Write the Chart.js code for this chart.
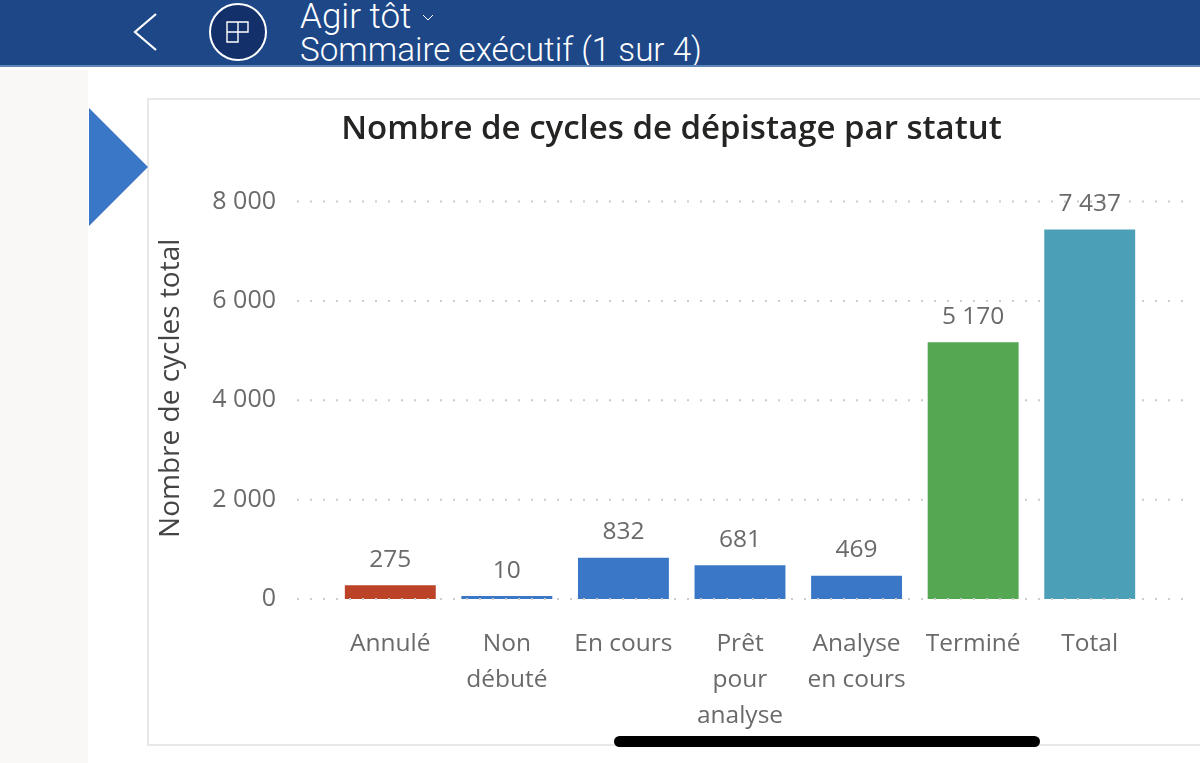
<!DOCTYPE html>
<html lang="fr"><head><meta charset="utf-8">
<script src="https://cdn.jsdelivr.net/npm/chart.js@4/dist/chart.umd.min.js"></script>
<style>
html,body{margin:0;padding:0;background:#fff;width:1200px;height:763px;overflow:hidden;font-family:"Open Sans",sans-serif}
#hdr{position:absolute;left:0;top:0;width:1200px;height:65px;background:#1D4787;border-bottom:2px solid #5F86B8;overflow:hidden}
.t{position:absolute;left:300px;color:#fff;font-family:Roboto,sans-serif;font-weight:300;white-space:nowrap}
#strip{position:absolute;left:0;top:70px;width:88px;height:693px;background:#FAF8F7}
#card{position:absolute;left:147px;top:98px;width:1060px;height:648px;border:2px solid #E8E8E8;box-sizing:border-box;background:#fff}
#wrap{position:absolute;left:142px;top:98px;width:1058px;height:665px}
#pill{position:absolute;left:614px;top:736px;width:426px;height:11px;border-radius:6px;background:#000}
svg{position:absolute;left:0;top:0}
</style></head><body>
<div id="strip"></div><div id="card"></div>
<svg width="160" height="240" style="z-index:3"><polygon points="89,108 148,167 89,226" fill="#3A77C7"/></svg>
<div id="wrap"><canvas id="c" width="1058" height="665"></canvas></div>
<div id="hdr">
<svg width="460" height="65">
<polyline points="156,14 135,32 156,50" fill="none" stroke="#fff" stroke-width="2.2"/>
<circle cx="238" cy="32" r="28" fill="#14306A" stroke="#fff" stroke-width="2"/>
<path d="M227 22H248V32H238V42H227ZM227 32H238M238 22V32" fill="none" stroke="#fff" stroke-width="1.4"/>
<polyline points="423,15 428,20 433,15" fill="none" stroke="#fff" stroke-width="1"/>
</svg>
<div class="t" style="top:-4px;font-size:35px;line-height:42px">Agir tôt</div>
<div class="t" style="top:31px;font-size:33.2px;line-height:38px">Sommaire exécutif (1 sur 4)</div>
</div>
<div id="pill"></div>
<script>
const categories = [["Annulé"], ["Non","débuté"], ["En cours"], ["Prêt","pour","analyse"], ["Analyse","en cours"], ["Terminé"], ["Total"]];
const values = [275, 10, 832, 681, 469, 5170, 7437];
const barColors = ["#BC4328","#3A77C7","#3A77C7","#3A77C7","#3A77C7","#55A752","#4BA0B8"];
const yAxisTitle = "Nombre de cycles total";
const fmt = v => String(v).replace(/\B(?=(\d{3})+$)/g, " ");
const textGrey = "#6A6A6A";
const font = '"Open Sans", sans-serif';

const dots = {
  id: "dots",
  drawGrid(chart, over){
    const y = chart.scales.y, a = chart.chartArea, ctx = chart.ctx;
    ctx.save();
    ctx.strokeStyle = "#CCCCCC"; ctx.lineWidth = 2; ctx.setLineDash([2, 11]);
    y.ticks.forEach(t => {
      if (over && t.value !== 0) return;
      const py = y.getPixelForValue(t.value);
      ctx.beginPath(); ctx.moveTo(a.left - 35, py); ctx.lineTo(a.right + 37, py); ctx.stroke();
    });
    ctx.restore();
  },
  beforeDatasetsDraw(chart){ this.drawGrid(chart, false); },
  afterDatasetsDraw(chart){
    this.drawGrid(chart, true);
    const ctx = chart.ctx, meta = chart.getDatasetMeta(0), a = chart.chartArea;
    ctx.save();
    ctx.font = "24.5px " + font; ctx.fillStyle = textGrey; ctx.textAlign = "center"; ctx.textBaseline = "bottom";
    meta.data.forEach((el, i) => ctx.fillText(fmt(values[i]), el.x, el.y - 13));
    ctx.restore();
    ctx.save();
    ctx.translate(a.left - 161, (a.top + a.bottom) / 2 - 12);
    ctx.rotate(-Math.PI / 2);
    ctx.font = "28px " + font; ctx.fillStyle = "#444"; ctx.textAlign = "center"; ctx.textBaseline = "middle";
    ctx.fillText(yAxisTitle, 0, 0);
    ctx.restore();
  }
};

new Chart(document.getElementById("c"), {
  type: "bar",
  data: { labels: categories, datasets: [{ data: values, backgroundColor: barColors, borderWidth: 0, minBarLength: 3,
    categoryPercentage: 1, barPercentage: 0.78 }] },
  options: {
    responsive: false, animation: false,
    layout: { padding: { left: 16, right: 15, top: 0, bottom: 0 } },
    plugins: {
      legend: { display: false }, tooltip: { enabled: false },
      title: { display: true, text: "Nombre de cycles de dépistage par statut",
        color: "#252423", font: { family: font, size: 33, weight: "600" }, padding: { top: 12, bottom: 52 } }
    },
    scales: {
      x: { grid: { display: false }, border: { display: false },
        ticks: { color: textGrey, font: { family: font, size: 24.5, lineHeight: 1.47 }, maxRotation: 0, autoSkip: false, padding: 19 },
        afterFit: s => { s.height = 164; } },
      y: { min: 0, max: 8000, grid: { display: false }, border: { display: false },
        ticks: { stepSize: 2000, color: textGrey, font: { family: font, size: 25 }, padding: 48, callback: v => fmt(v) },
        afterFit: s => { s.width = 174; } },
      yRight: { position: "right", min: 0, max: 8000, grid: { display: false }, border: { display: false },
        ticks: { display: false }, afterFit: s => { s.width = 37; } }
    }
  },
  plugins: [dots]
});
</script>
</body></html>
